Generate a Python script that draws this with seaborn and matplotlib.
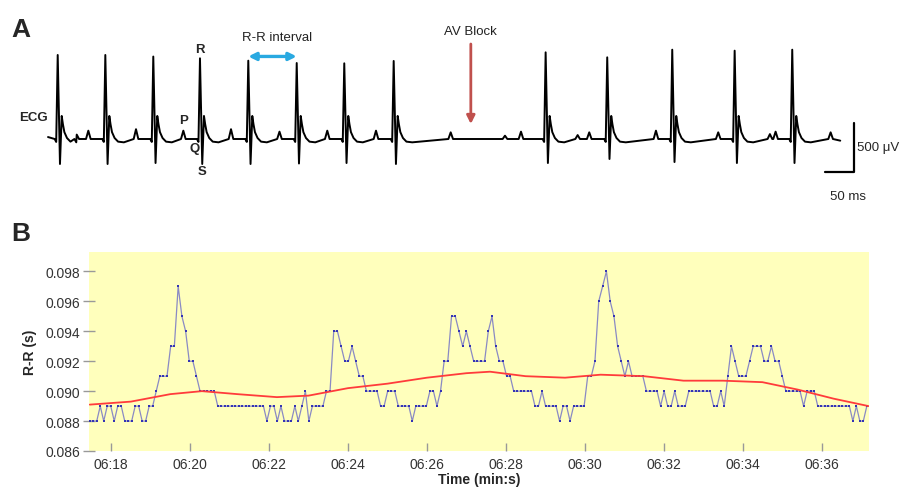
import numpy as np
import pandas as pd
import seaborn as sns
import matplotlib.pyplot as plt

# ---- panel A: ECG trace (ms, uV relative to baseline) ----
beat_ms = [16.7, 98.8, 181.5, 262.0, 345.3, 428.8, 510.8, 596.0,
           858.0, 964.2, 1076.3, 1183.9, 1283.2]
r_uv = [857, 857, 841, 823, 799, 775, 772, 796, 884, 833, 911, 901, 911]
s_uv = [-255, -255, -245, -255, -255, -250, -245, -255, -245, -204, -235, -245, -245]
p_ms = [49.5, 69.5, 151.7, 233.3, 315.5, 399.1, 481.5, 565.5, 694.3, 787.9,
        815.5, 913.2, 933.2, 1048.2, 1155.6, 1244.7, 1254.5, 1349.4]
p_uv = [45, 85, 100, 85, 100, 75, 85, 85, 68, 34, 75, 40, 68, 85, 68, 50, 75, 68]
qrs_off = [-5.2, -2.6, 0, 3.9, 6.9, 9.0, 11.5, 16.0, 22.0, 32.0]
qrs_val = [0, -30, None, None, 235, 150, 70, 10, -27, -34]
trace_start, trace_end = (0.0, 20), (1366.0, -17)

# ---- panel B: R-R intervals (run lengths of equal values, in ms) ----
rr_val = [88, 89, 88, 89, 88, 89, 88, 89, 88, 89, 90, 91, 93, 97, 95, 94, 92, 91, 90,
          89, 88, 89, 88, 89, 88, 89, 88, 89, 90, 88, 89, 90, 94, 93, 92,
          93, 92, 91, 90, 89, 90, 89, 88, 89, 90, 89, 90, 92, 95, 94, 93, 94, 93, 92,
          94, 95, 93, 92, 91, 90, 89, 90, 89, 88, 89, 88, 89, 91, 92, 96, 97, 98,
          96, 95, 93, 92, 91, 92, 91, 90, 89, 90, 89, 90, 89, 90, 89, 90, 89, 91,
          93, 92, 91, 92, 93, 92, 93, 92, 91, 90, 89, 90, 89, 88, 89, 88, 89]
rr_cnt = [3, 1, 1, 2, 1, 2, 3, 2, 2, 2, 1, 3, 2, 1, 1, 1, 2, 1, 5,
          14, 1, 2, 1, 1, 3, 1, 1, 1, 1, 1, 4, 2, 2, 1, 2,
          1, 1, 2, 4, 2, 3, 4, 1, 4, 2, 1, 1, 2, 2, 1, 1, 1, 1, 4,
          1, 1, 1, 2, 2, 6, 2, 1, 4, 1, 2, 1, 4, 2, 1, 1, 1, 1,
          1, 1, 1, 1, 1, 1, 4, 4, 1, 1, 2, 1, 3, 7, 2, 1, 1, 1,
          1, 1, 3, 1, 3, 2, 1, 2, 1, 5, 1, 3, 10, 1, 1, 2, 1]
t0 = 377.46  # time of first beat (s)
trend_t = [377.46, 378.5, 379.5, 380.3, 381.2, 382.2, 383.0, 384.0, 385.0, 386.0, 387.0,
           387.6, 388.5, 389.5, 390.4, 391.5, 392.5, 393.5, 394.5, 395.4, 396.3, 397.19]
trend_v = [0.0891, 0.0893, 0.0898, 0.0900, 0.0898, 0.0896, 0.0897, 0.0902, 0.0905, 0.0909,
           0.0912, 0.0913, 0.0910, 0.0909, 0.0911, 0.0910, 0.0907, 0.0907, 0.0906, 0.0901,
           0.0895, 0.0890]
yticks = [0.086, 0.088, 0.090, 0.092, 0.094, 0.096, 0.098]
xticks = [378, 380, 382, 384, 386, 388, 390, 392, 394, 396]

sns.set_style("white")
plt.rcParams['font.family'] = ['Liberation Sans', 'DejaVu Sans']

fig = plt.figure(figsize=(9.08, 4.89), dpi=100)

# build ECG vertices
pts = [trace_start, trace_end]
for t, r, s in zip(beat_ms, r_uv, s_uv):
    for off, v in zip(qrs_off, qrs_val):
        if off == 0:
            v = r
        elif v is None:
            v = s
        pts.append((t + off, v))
for t, h in zip(p_ms, p_uv):
    pts += [(t - 4, 0), (t, h), (t + 4, 0)]
ecg = pd.DataFrame(sorted(pts), columns=["ms", "uV"])

axA = fig.add_axes([0, 1 - 210 / 489, 1, 210 / 489])
sns.lineplot(data=ecg, x="ms", y="uV", sort=False, estimator=None,
             color="black", lw=1.4, ax=axA)
axA.set_xlim(-82.8, 1482.8)
axA.set_ylim(-714, 1428)
axA.axis("off")

lab = dict(fontsize=9.5, fontweight="bold", ha="center", va="center")
axA.text(0, 224, "ECG", fontsize=9.5, fontweight="bold", ha="right", va="center")
axA.text(beat_ms[3], r_uv[3] + 95, "R", **lab)
axA.text(p_ms[3], p_uv[3] + 110, "P", **lab)
axA.text(beat_ms[3] - 8.6, -92, "Q", **lab)
axA.text(beat_ms[3] + 3.5, -326, "S", **lab)

axA.annotate("", xy=(beat_ms[4], 842), xytext=(beat_ms[5], 842),
             arrowprops=dict(arrowstyle="<|-|>", color="#29a9e1", lw=2.4,
                             mutation_scale=11, shrinkA=0, shrinkB=0))
axA.text((beat_ms[4] + beat_ms[5]) / 2 + 8, 1045, "R-R interval", fontsize=9.5,
         ha="center", va="center", color="#222222")
axA.annotate("", xy=(729, 153), xytext=(729, 969),
             arrowprops=dict(arrowstyle="-|>", color="#c0504d", lw=2,
                             mutation_scale=12, shrinkA=0, shrinkB=0))
axA.text(728, 1098, "AV Block", fontsize=9.5, ha="center", va="center", color="#222222")

# scale bar: 50 ms x 500 uV
sb_x, sb_y = 1389.5, -337
axA.plot([sb_x - 50, sb_x, sb_x], [sb_y, sb_y, sb_y + 500], color="black", lw=1.6)
axA.text(sb_x + 6, sb_y + 255, "500 \u03bcV", fontsize=9.5, ha="left", va="center")
axA.text(sb_x - 10, -581, "50 ms", fontsize=9.5, ha="center", va="center")

fig.text(11 / 908, 1 - 30 / 489, "A", fontsize=19, fontweight="bold", ha="left", va="center")
fig.text(11 / 908, 1 - 234 / 489, "B", fontsize=19, fontweight="bold", ha="left", va="center")

# panel B
rr = np.repeat(np.array(rr_val) / 1000.0, rr_cnt)
t = t0 + np.concatenate([[0], np.cumsum(rr[1:])])
rrdf = pd.DataFrame({"t": t, "rr": rr})

axB = fig.add_axes([89 / 908, 1 - 452 / 489, 780 / 908, 199 / 489])
axB.set_facecolor("#ffffbc")
sns.lineplot(data=rrdf, x="t", y="rr", sort=False, estimator=None, ax=axB,
             color="#8a8ac4", lw=0.9, marker="s", markersize=1.5,
             markerfacecolor="#3434b4", markeredgewidth=0)
sns.lineplot(x=trend_t, y=trend_v, sort=False, estimator=None, ax=axB,
             color="#ff3b3b", lw=1.3)
for sp in axB.spines.values():
    sp.set_visible(False)
axB.set_xlim(377.44, 397.2)
axB.set_ylim(0.086, 0.0993)
axB.set_yticks(yticks)
axB.set_yticklabels([f"{v:.3f}" for v in yticks])
axB.set_xticks(xticks)
axB.set_xticklabels([f"{s // 60:02d}:{s % 60:02d}" for s in xticks])
axB.tick_params(axis="y", direction="inout", length=9, width=1, color="#999999",
                labelsize=10, labelcolor="#333333", pad=2, left=True)
axB.tick_params(axis="x", direction="in", length=6, width=1, color="#999999",
                labelsize=10, labelcolor="#333333", pad=4, bottom=True)
axB.set_xlabel("Time (min:s)", fontsize=10, fontweight="bold", labelpad=1)
axB.set_ylabel("R-R (s)", fontsize=10, fontweight="bold", labelpad=6)

fig.savefig("out.png", dpi=100)
